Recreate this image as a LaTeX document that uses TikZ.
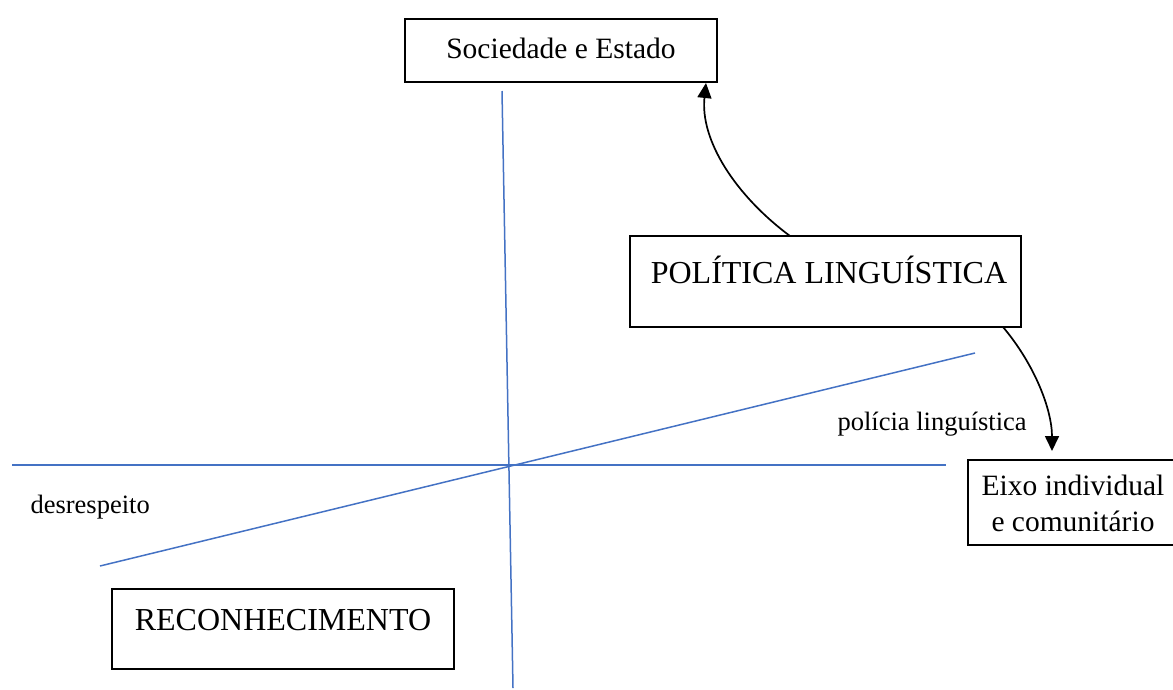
\documentclass[tikz,border=0pt]{standalone}
\usepackage{fontspec}
\setmainfont{Liberation Serif}
\usetikzlibrary{arrows.meta}
\definecolor{axisblue}{RGB}{68,114,196}
\begin{document}
\begin{tikzpicture}[x=1pt,y=-1pt,
  boxstyle/.style={draw=black,line width=1.8pt,fill=white,inner sep=0pt},
  axisline/.style={draw=axisblue,line width=1.5pt},
  conn/.style={draw=black,line width=1.7pt,-{Triangle[length=15pt,width=14pt]}},
  smalltext/.style={font=\fontsize{29.5}{36}\selectfont},
  labeltext/.style={font=\fontsize{26.5}{32}\selectfont},
  bigtext/.style={font=\fontsize{32}{38}\selectfont}]
\useasboundingbox (0,0) rectangle (1173,689);
% axes
\coordinate (vtop) at (502,91);
\coordinate (vbot) at (513,688);
\coordinate (hl) at (12,465);
\coordinate (hr) at (946,465);
\coordinate (sl) at (100,566);
\coordinate (sr) at (975,353);
\draw[axisline] (vtop) -- (vbot);
\draw[axisline] (hl) -- (hr);
\draw[axisline] (sl) -- (sr);
% boxes
\node[boxstyle,minimum width=312pt,minimum height=63pt] (soc) at (561,50.5) {};
\node[smalltext] (soct) at (561,48) {Sociedade e Estado};
\node[boxstyle,minimum width=391pt,minimum height=91pt] (pol) at (825.5,281.5) {};
\node[bigtext] (polt) at (829,270) {POLÍTICA LINGUÍSTICA};
\node[boxstyle,minimum width=206pt,minimum height=85pt] (eixo) at (1071,502.5) {};
\node[smalltext,align=center] (eixot) at (1073,503) {Eixo individual\\e comunitário};
\node[boxstyle,minimum width=342pt,minimum height=80pt] (rec) at (283,629) {};
\node[bigtext] (rect) at (283,620) {RECONHECIMENTO};
% labels
\node[labeltext,anchor=west] (lab1) at (834,424) {polícia linguística};
\node[labeltext,anchor=west] (lab2) at (27,507) {desrespeito};
% connectors
\coordinate (a1) at (790,236);
\coordinate (a2) at (706,83);
\draw[conn] (a1) .. controls (735,195) and (700,140) .. (a2);
\coordinate (b1) at (1003,327);
\coordinate (b2) at (1052,451);
\draw[conn] (b1) .. controls (1035,365) and (1052,410) .. (b2);
\end{tikzpicture}
\end{document}
